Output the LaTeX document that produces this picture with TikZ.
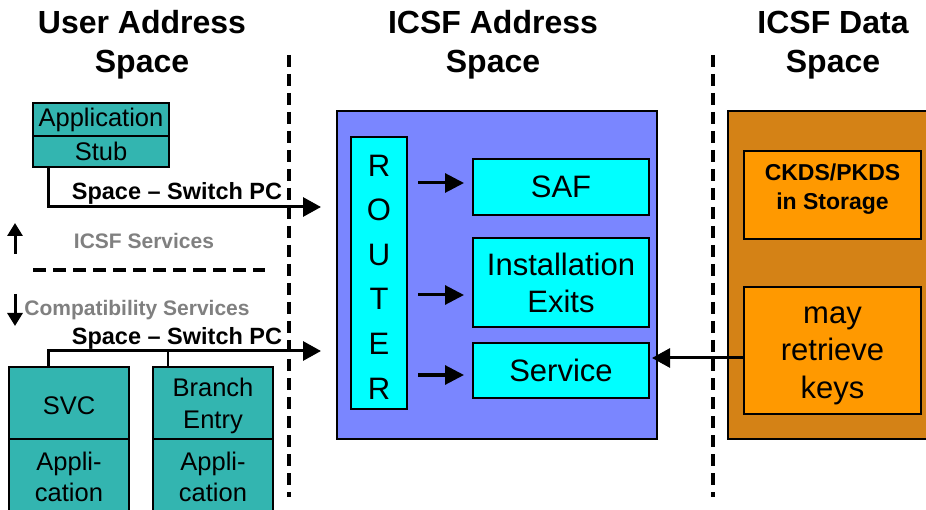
\documentclass[tikz,border=0pt]{standalone}
\usepackage{fontspec}
\setmainfont{Liberation Sans}
\usetikzlibrary{arrows.meta}
\definecolor{teal1}{RGB}{51,181,176}
\definecolor{cyan1}{RGB}{0,255,255}
\definecolor{blue1}{RGB}{122,134,255}
\definecolor{brown1}{RGB}{212,130,22}
\definecolor{orange1}{RGB}{255,153,0}
\definecolor{gray1}{RGB}{128,128,128}
\tikzset{
  box/.style={draw=black, line width=2pt, inner sep=0pt, align=center},
  tealbox/.style={box, fill=teal1, font=\fontsize{25.5}{31}\selectfont},
  cyanbox/.style={box, fill=cyan1, font=\fontsize{31}{37}\selectfont},
  orangebox/.style={box, fill=orange1},
  boxtext/.style={align=center, inner sep=0pt},
  title/.style={align=center, font=\bfseries\fontsize{32}{39}\selectfont},
  swlabel/.style={font=\bfseries\fontsize{23.5}{28}\selectfont},
  graylabel/.style={text=gray1, font=\bfseries\fontsize{21}{25}\selectfont},
  arr/.style={line width=3pt, -{Triangle[length=18pt,width=19pt]}},
  sarr/.style={line width=3pt, -{Triangle[length=19pt,width=19pt]}},
  divider/.style={line width=4pt, dash pattern=on 12pt off 7pt},
  conn/.style={line width=2pt}
}
\begin{document}
\begin{tikzpicture}[x=1pt,y=-1pt]
\useasboundingbox (0,0) rectangle (926,510);
\clip (0,0) rectangle (926,510);
\fill[white] (0,0) rectangle (926,510);

% titles
\node[title] (t1) at (142,45) {User Address\\Space};
\node[title] (t2) at (493,45) {ICSF Address\\Space};
\node[title] (t3) at (833,45) {ICSF Data\\Space};

% dividers
\coordinate (d1a) at (289,55); \coordinate (d1b) at (289,497);
\coordinate (d2a) at (713,55); \coordinate (d2b) at (713,497);
\draw[divider] (d1a) -- (d1b);
\draw[divider] (d2a) -- (d2b);

% ICSF data space
\node[box, fill=brown1, minimum width=215pt, minimum height=328pt] (data) at (835.5,275) {};
\node[orangebox, minimum width=177pt, minimum height=88pt] (ckds) at (832.5,195) {};
\node[boxtext, font=\bfseries\fontsize{23}{29}\selectfont] (ckdstext) at ([yshift=6pt]ckds.center) {CKDS/PKDS\\in Storage};
\node[orangebox, minimum width=177pt, minimum height=127pt] (may) at (832.5,350.5) {};
\node[boxtext, font=\fontsize{31}{37.5}\selectfont] (maytext) at ([yshift=-5pt]may.center) {may\\retrieve\\keys};

% ICSF address space
\node[box, fill=blue1, minimum width=320pt, minimum height=328pt] (icsf) at (497,275) {};
\node[cyanbox, minimum width=56pt, minimum height=272pt] (router) at (379,273) {};
\node[boxtext, font=\fontsize{31}{44.6}\selectfont] (routertext) at ([yshift=-4pt]router.center) {R\\O\\U\\T\\E\\R};
\node[cyanbox, minimum width=176pt, minimum height=56pt] (saf) at (561,187) {SAF};
\node[cyanbox, minimum width=176pt, minimum height=89pt] (inst) at (561,282.5) {Installation\\Exits};
\node[cyanbox, minimum width=176pt, minimum height=55pt] (serv) at (561,370.5) {Service};

\draw[sarr] ([xshift=10pt,yshift=4pt]router.east |- saf.west) -- ([xshift=-8pt,yshift=4pt]saf.west);
\draw[sarr] ([xshift=10pt,yshift=-12.5pt]router.east |- inst.west) -- ([xshift=-8pt,yshift=-12.5pt]inst.west);
\draw[sarr] ([xshift=10pt,yshift=-4.5pt]router.east |- serv.west) -- ([xshift=-8pt,yshift=-4.5pt]serv.west);

\draw[arr] ([yshift=-7.5pt]may.west) coordinate (m1) -- ([xshift=2pt]serv.east |- m1);

% user address space
\node[tealbox, minimum width=136pt, minimum height=33pt] (appl) at (101,119.5) {Application};
\node[tealbox, minimum width=136pt, minimum height=31pt] (stub) at (101,151.5) {Stub};

\coordinate (tip1) at (321,207);
\draw[arr] ([xshift=16pt]stub.south west) |- (tip1);
\node[swlabel] (sw1) at (177,193) {Space -- Switch PC};

\coordinate (upa) at (15,254); \coordinate (upb) at (15,223);
\draw[arr, -{Triangle[length=13pt,width=15pt]}] (upa) -- (upb);
\node[graylabel] (icsfserv) at (144,241) {ICSF Services};

\coordinate (ha) at (33,270); \coordinate (hb) at (265,270);
\draw[divider, dash pattern=on 13pt off 7pt] (ha) -- (hb);

\coordinate (dna) at (15,294); \coordinate (dnb) at (15,326);
\draw[arr, -{Triangle[length=13pt,width=15pt]}] (dna) -- (dnb);
\node[graylabel] (compat) at (137,310) {Compatibility Services};

\node[tealbox, minimum width=120pt, minimum height=72pt] (svc) at (69,403) {};
\node[boxtext, font=\fontsize{25.5}{31}\selectfont] (svctext) at ([yshift=-3pt]svc.center) {SVC};
\node[tealbox, minimum width=120pt, minimum height=76pt] (svcapp) at (69,477) {Appli-\\cation};
\node[tealbox, minimum width=120pt, minimum height=72pt] (br) at (213,403) {};
\node[boxtext, font=\fontsize{25.5}{32}\selectfont] (brtext) at ([yshift=-3pt]br.center) {Branch\\Entry};
\node[tealbox, minimum width=120pt, minimum height=76pt] (brapp) at (213,477) {Appli-\\cation};

\coordinate (tip2) at (321,351);
\draw[arr] ([xshift=40pt]svc.north west) |- (tip2);
\draw[conn] ([xshift=16pt]br.north west) -- ([xshift=16pt]br.north west |- tip2);
\node[swlabel] (sw2) at (177,338) {Space -- Switch PC};
\end{tikzpicture}
\end{document}
